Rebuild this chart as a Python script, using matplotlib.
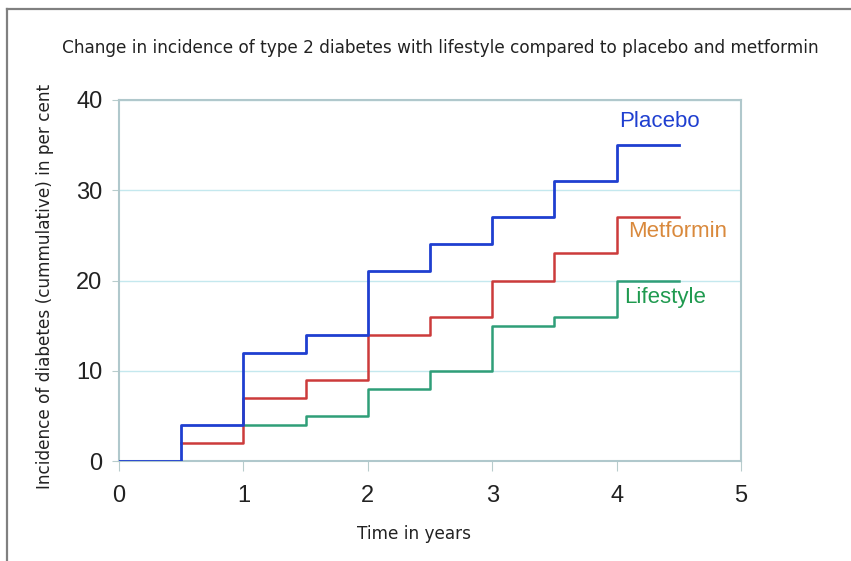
import matplotlib
matplotlib.use("Agg")
import matplotlib.pyplot as plt
from matplotlib.lines import Line2D

years_placebo = [0, 0.5, 1, 1.5, 2, 2.5, 3, 3.5, 4, 4.5]
placebo = [0, 4, 12, 14, 21, 24, 27, 31, 35, 35]
years_metformin = [0.5, 1, 1.5, 2, 2.5, 3, 3.5, 4, 4.5]
metformin = [2, 7, 9, 14, 16, 20, 23, 27, 27]
years_lifestyle = [1, 1.5, 2, 2.5, 3, 3.5, 4, 4.5]
lifestyle = [4, 5, 8, 10, 15, 16, 20, 20]
x_ticks = [0, 1, 2, 3, 4, 5]
y_ticks = [0, 10, 20, 30, 40]

W, H = 851, 561
fig = plt.figure(figsize=(W / 100, H / 100), dpi=100)
ax = fig.add_axes([119 / W, 1 - 461 / H, (741 - 119) / W, (461 - 100) / H])

# figure frame lines (top and left)
fig.add_artist(Line2D([7 / W, 1], [1 - 9 / H, 1 - 9 / H], color="#808080", lw=1.6, transform=fig.transFigure))
fig.add_artist(Line2D([7 / W, 7 / W], [0, 1 - 9 / H], color="#808080", lw=1.6, transform=fig.transFigure))

ax.step(years_lifestyle, lifestyle, where="post", color="#2f9e78", lw=1.8, zorder=3)
ax.step(years_metformin, metformin, where="post", color="#cc3b3b", lw=1.8, zorder=4)
ax.step(years_placebo, placebo, where="post", color="#1f3fd0", lw=2.0, zorder=5)

ax.set_xlim(0, 5)
ax.set_ylim(0, 40)
ax.set_xticks(x_ticks)
ax.set_yticks(y_ticks)
ax.set_xticklabels([str(t) for t in x_ticks], family="Liberation Sans", fontsize=17, color="#222222")
ax.set_yticklabels([str(t) for t in y_ticks], family="Liberation Sans", fontsize=17, color="#222222")
ax.tick_params(axis="x", length=7, color="#b8cccc", pad=10)
ax.tick_params(axis="y", length=5, color="#b8cccc", pad=7)
ax.grid(axis="y", color="#c4e8ee", lw=1)
ax.set_axisbelow(True)
for s in ax.spines.values():
    s.set_color("#b0c8cc")
    s.set_linewidth(1.5)

ax.text(4.02, 37.6, "Placebo", color="#1f3fd0", fontsize=16, family="Liberation Sans", va="center", ha="left")
ax.text(4.09, 25.4, "Metformin", color="#d9893c", fontsize=16, family="Liberation Sans", va="center", ha="left")
ax.text(4.06, 18.1, "Lifestyle", color="#1f9a4f", fontsize=16, family="Liberation Sans", va="center", ha="left")

fig.text(440 / W, 1 - 48 / H, "Change in incidence of type 2 diabetes with lifestyle compared to placebo and metformin",
         ha="center", va="center", fontsize=12.2, family="DejaVu Sans", color="#222222")
fig.text(414 / W, 1 - 534 / H, "Time in years", ha="center", va="center", fontsize=12.2, family="DejaVu Sans", color="#222222")
fig.text(45 / W, 1 - 286 / H, "Incidence of diabetes (cummulative) in per cent", ha="center", va="center",
         rotation=90, fontsize=12.2, family="DejaVu Sans", color="#222222")

fig.savefig("out.png", dpi=100, facecolor="white")
